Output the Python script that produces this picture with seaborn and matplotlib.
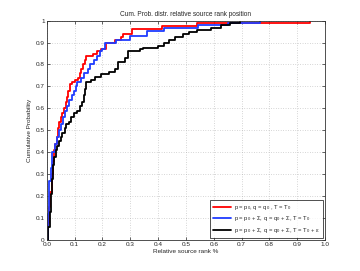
"""Cumulative probability of relative source rank position, three settings."""

import matplotlib
matplotlib.use("Agg")
import matplotlib.pyplot as plt
import seaborn as sns

# step positions (x) and cumulative value after each step (y)
red_x = [0, 0.004, 0.008, 0.012, 0.018, 0.022, 0.026, 0.031, 0.036, 0.040, 0.044,
         0.050, 0.056, 0.062, 0.068, 0.072, 0.077, 0.082, 0.090, 0.100, 0.112,
         0.118, 0.124, 0.130, 0.136, 0.142, 0.165, 0.180, 0.195, 0.212, 0.245,
         0.265, 0.275, 0.305, 0.413, 0.540, 0.946]
red_y = [0, 0.08, 0.15, 0.22, 0.30, 0.36, 0.41, 0.44, 0.47, 0.51, 0.54,
         0.56, 0.58, 0.60, 0.63, 0.65, 0.68, 0.71, 0.72, 0.73, 0.74,
         0.76, 0.78, 0.80, 0.82, 0.84, 0.85, 0.86, 0.87, 0.90, 0.91,
         0.925, 0.94, 0.962, 0.977, 0.99, 1.0]

blue_x = [0, 0.004, 0.008, 0.014, 0.020, 0.028, 0.036, 0.044, 0.052, 0.060, 0.066,
          0.072, 0.078, 0.090, 0.096, 0.104, 0.110, 0.122, 0.135, 0.148, 0.156,
          0.170, 0.180, 0.190, 0.200, 0.208, 0.250, 0.300, 0.360, 0.420, 0.545,
          0.650, 0.766]
blue_y = [0, 0.12, 0.27, 0.33, 0.40, 0.44, 0.47, 0.50, 0.53, 0.56, 0.59,
          0.61, 0.64, 0.66, 0.68, 0.70, 0.72, 0.74, 0.76, 0.78, 0.80,
          0.82, 0.84, 0.86, 0.87, 0.90, 0.912, 0.93, 0.953, 0.965, 0.978,
          0.99, 1.0]

black_x = [0, 0.006, 0.010, 0.014, 0.018, 0.022, 0.026, 0.032, 0.038, 0.044, 0.050,
           0.056, 0.064, 0.070, 0.080, 0.088, 0.098, 0.108, 0.118, 0.126, 0.132,
           0.138, 0.142, 0.160, 0.175, 0.195, 0.225, 0.245, 0.255, 0.280, 0.290,
           0.335, 0.345, 0.400, 0.420, 0.440, 0.460, 0.490, 0.510, 0.540, 0.590,
           0.625, 0.660, 0.695]
black_y = [0, 0.06, 0.13, 0.21, 0.28, 0.34, 0.38, 0.41, 0.43, 0.45, 0.47,
           0.49, 0.51, 0.53, 0.54, 0.56, 0.58, 0.59, 0.61, 0.63, 0.66,
           0.69, 0.72, 0.73, 0.745, 0.755, 0.765, 0.78, 0.81, 0.83, 0.86,
           0.87, 0.875, 0.885, 0.90, 0.91, 0.925, 0.94, 0.95, 0.958, 0.968,
           0.978, 0.988, 1.0]

labels = [
    r"$p$ = $p_0$, $q$ = $q_0$ , $T$ = $T_0$",
    r"$p$ = $p_0$ + $\Sigma$, $q$ = $q_0$ + $\Sigma$, $T$ = $T_0$",
    r"$p$ = $p_0$ + $\Sigma$, $q$ = $q_0$ + $\Sigma$, $T$ = $T_0$ + $\epsilon$",
]
xticks = [0.0, 0.1, 0.2, 0.3, 0.4, 0.5, 0.6, 0.7, 0.8, 0.9, 1.0]
yticks = [0, 0.1, 0.2, 0.3, 0.4, 0.5, 0.6, 0.7, 0.8, 0.9, 1]

sns.set_style("ticks")
plt.rcParams["font.family"] = ["Liberation Sans", "DejaVu Sans"]
plt.rcParams["mathtext.fontset"] = "custom"
plt.rcParams["mathtext.rm"] = "Liberation Sans"
plt.rcParams["mathtext.it"] = "Liberation Sans"

fig = plt.figure(figsize=(3.6, 2.71), dpi=100)
ax = fig.add_axes([0.13, 0.114, 0.773, 0.81])

series = [(red_x, red_y, "#ff0000"), (blue_x, blue_y, "#1f3cff"), (black_x, black_y, "#000000")]
for (xs, ys, col), lab in zip(series, labels):
    sns.lineplot(x=xs, y=ys, ax=ax, color=col, lw=1.3, label=lab,
                 drawstyle="steps-post", estimator=None, sort=False)

ax.set_xlim(0, 1)
ax.set_ylim(0, 1)
ax.set_xticks(xticks)
ax.set_xticklabels([f"{t:.1f}" for t in xticks])
ax.set_yticks(yticks)
ax.set_yticklabels([f"{t:g}" for t in yticks])
ax.tick_params(direction="in", length=2.5, width=0.5, labelsize=4.6, pad=1.5,
               top=True, right=True)
ax.grid(True, linestyle=(0, (1, 2.5)), color="#b0b0b0", linewidth=0.5)
for s in ax.spines.values():
    s.set_linewidth(0.6)
    s.set_color("#333333")

ax.set_title("Cum. Prob. distr. relative source rank position", fontsize=4.7, pad=3)
ax.set_xlabel("Relative source rank %", fontsize=4.6, labelpad=1.5)
ax.set_ylabel("Cumulative Probability", fontsize=4.6, labelpad=3)

leg = ax.legend(loc="lower right", fontsize=4.2, frameon=True, fancybox=False,
                borderpad=0.5, handlelength=3.2, handletextpad=0.4,
                labelspacing=0.45, borderaxespad=0.4)
leg.get_frame().set_edgecolor("black")
leg.get_frame().set_linewidth(0.6)

fig.savefig("out.png", dpi=100)
plt.close(fig)
